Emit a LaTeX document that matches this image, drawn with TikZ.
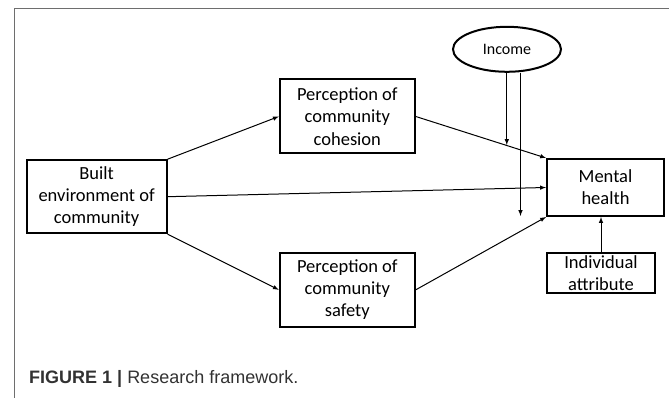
\documentclass[tikz,border=0pt]{standalone}
\usepackage{fontspec}
\setmainfont{Carlito}
\newfontfamily\capfont{Liberation Sans}
\usetikzlibrary{
  shapes.geometric,%
  arrows,
  positioning
}
\tikzset{>=latex}
\tikzset{box/.style={draw, line width=2pt, align=center, inner sep=0pt,
    font=\fontsize{18.5}{22.2}\selectfont}}
\tikzset{link/.style={->, line width=1pt}}
\definecolor{framegray}{RGB}{110,110,110}
\definecolor{captext}{RGB}{50,50,50}

\begin{document}
\begin{tikzpicture}[x=1pt, y=-1pt]
  \useasboundingbox (0,0) rectangle (669,398);
  \draw[framegray, line width=0.9pt] (14,398) -- (14,8.7) -- (669,8.7);

  \node[box, minimum width=140pt, minimum height=73pt] (built) at (96.6,196.7)
    {Built\\environment of\\community};
  \node[box, minimum width=135pt, minimum height=74pt] (cohesion) at (347.3,116.5)
    {Perception of\\community\\cohesion};
  \node[box, minimum width=135pt, minimum height=74pt] (safety) at (347.3,289.8)
    {Perception of\\community\\safety};
  \node[box, minimum width=117pt, minimum height=57pt] (mental) at (605.5,187.5)
    {Mental\\health};
  \node[box, minimum width=108pt, minimum height=40pt] (indiv) at (601,273)
    {Individual\\attribute};
  \node[box, ellipse, minimum width=108pt, minimum height=45pt,
    font=\fontsize{16}{20}\selectfont] (income) at (507,49.3) {Income};

  \draw[link] (built.north east) -- (cohesion.west);
  \draw[link] (built.south east) -- (safety.west);
  \draw[link] (built.east) -- (mental.west);
  \draw[link] (cohesion.east) -- (mental.north west);
  \draw[link] (safety.east) -- (mental.south west);
  \draw[link] (indiv.north) -- (indiv.north |- mental.south);

  % moderating effect of income
  \coordinate (mod1) at (506.8,145);
  \coordinate (mod2) at (520.5,216);
  \draw[link] (income.south -| mod1) -- (mod1);
  \draw[link] (income.south -| mod2) -- (mod2);

  \node[anchor=base west, inner sep=0pt, text=captext,
    font=\capfont\fontsize{18}{21}\selectfont] (caption) at (29,383)
    {\textbf{FIGURE 1 |} Research framework.};
\end{tikzpicture}
\end{document}
